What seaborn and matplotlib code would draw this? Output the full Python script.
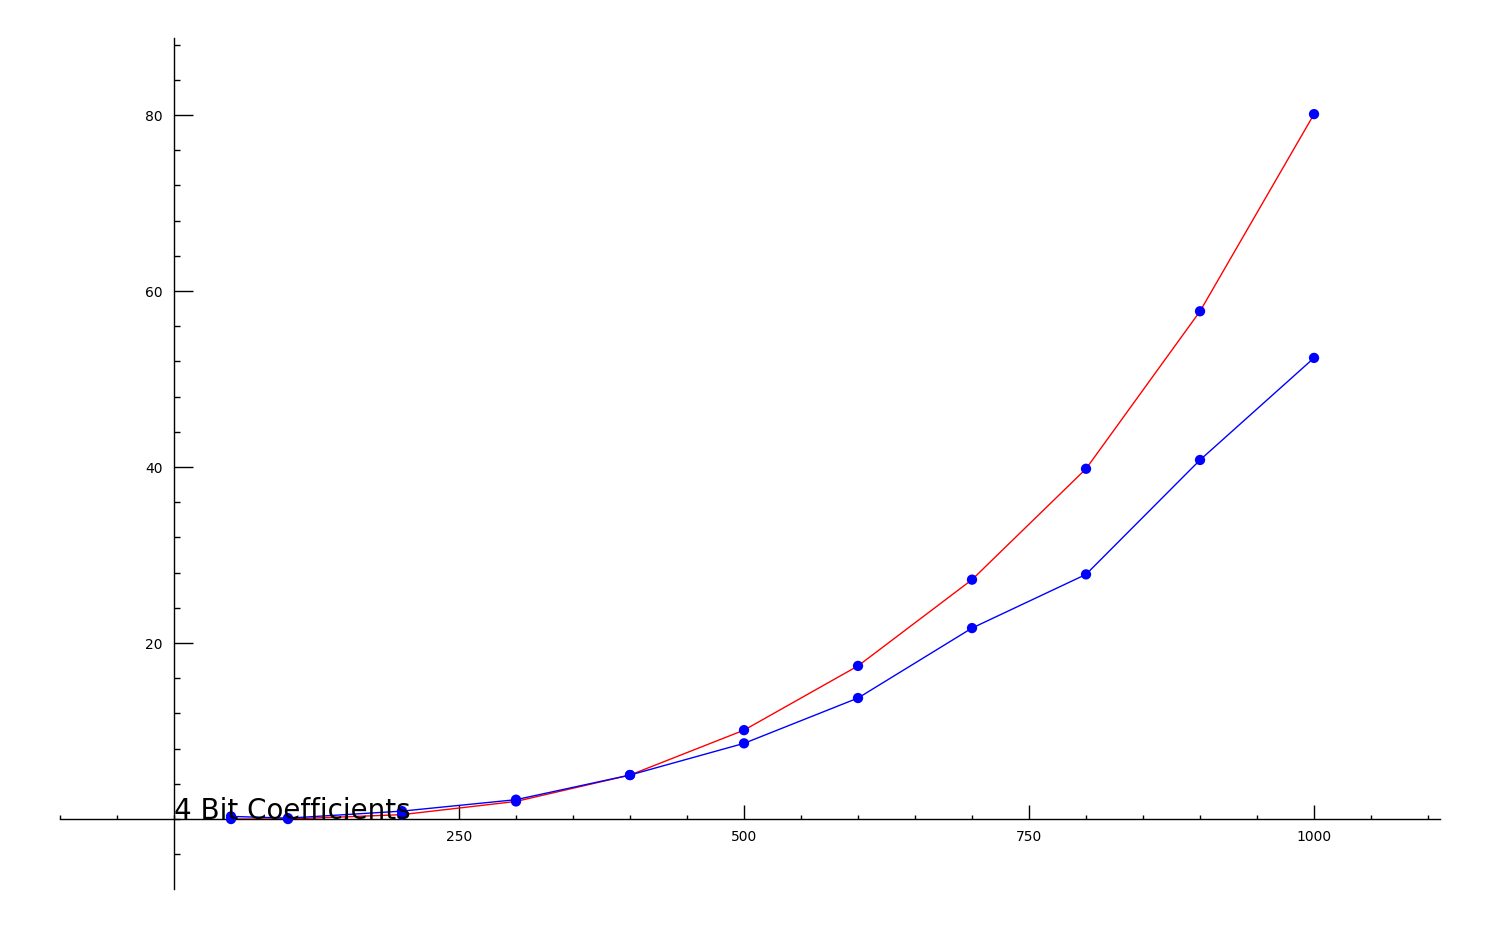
import numpy as np
import pandas as pd
import matplotlib
matplotlib.use('Agg')
import matplotlib.pyplot as plt
from matplotlib.ticker import MultipleLocator
import seaborn as sns

# данные
n_values = [50, 100, 200, 300, 400, 500, 600, 700, 800, 900, 1000]
red_times = [0.0, 0.0, 0.5, 2.0, 5.0, 10.1, 17.4, 27.2, 39.8, 57.7, 80.1]
blue_times = [0.3, 0.1, 0.9, 2.2, 5.0, 8.6, 13.75, 21.7, 27.8, 40.8, 52.4]
x_ticks = [250, 500, 750, 1000]
y_ticks = [20, 40, 60, 80]
label = '4 Bit Coefficients'

df = pd.DataFrame({
    'n': n_values * 2,
    't': red_times + blue_times,
    'series': ['red'] * len(n_values) + ['blue'] * len(n_values),
})

sns.set_style('white')
fig = plt.figure(figsize=(15, 9.27), dpi=100)
ax = fig.add_axes([60 / 1500, 1 - 889 / 927, 1380 / 1500, 851 / 927])

sns.scatterplot(data=df, x='n', y='t', color='blue', s=55, edgecolor='none',
                legend=False, ax=ax, zorder=3)
sns.lineplot(data=df, x='n', y='t', hue='series',
             palette={'red': 'red', 'blue': 'blue'}, linewidth=1.0,
             legend=False, ax=ax, zorder=2)

ax.set_xlim(-100, 1110.5)
ax.set_ylim(-7.95, 88.75)

for side in ['top', 'right']:
    ax.spines[side].set_visible(False)
ax.spines['left'].set_position(('data', 0))
ax.spines['bottom'].set_position(('data', 0))
for side in ['left', 'bottom']:
    ax.spines[side].set_color('black')
    ax.spines[side].set_linewidth(1.0)

ax.set_xticks(x_ticks)
ax.set_yticks(y_ticks)
ax.xaxis.set_minor_locator(MultipleLocator(50))
ax.yaxis.set_minor_locator(MultipleLocator(4))
ax.tick_params(axis='x', which='major', direction='in', length=10, width=1,
               labelsize=10, pad=8, bottom=True, colors='black')
ax.tick_params(axis='x', which='minor', direction='in', length=3, width=1,
               bottom=True, colors='black')
ax.tick_params(axis='y', which='major', direction='in', length=14, width=1,
               labelsize=10, pad=8, left=True, colors='black')
ax.tick_params(axis='y', which='minor', direction='in', length=4, width=1,
               left=True, colors='black')
ax.set_xlabel('')
ax.set_ylabel('')

ax.text(0, 0, label, fontsize=20, ha='left', va='baseline', color='black', zorder=4)

plt.savefig('out.png', dpi=100)
plt.close()
